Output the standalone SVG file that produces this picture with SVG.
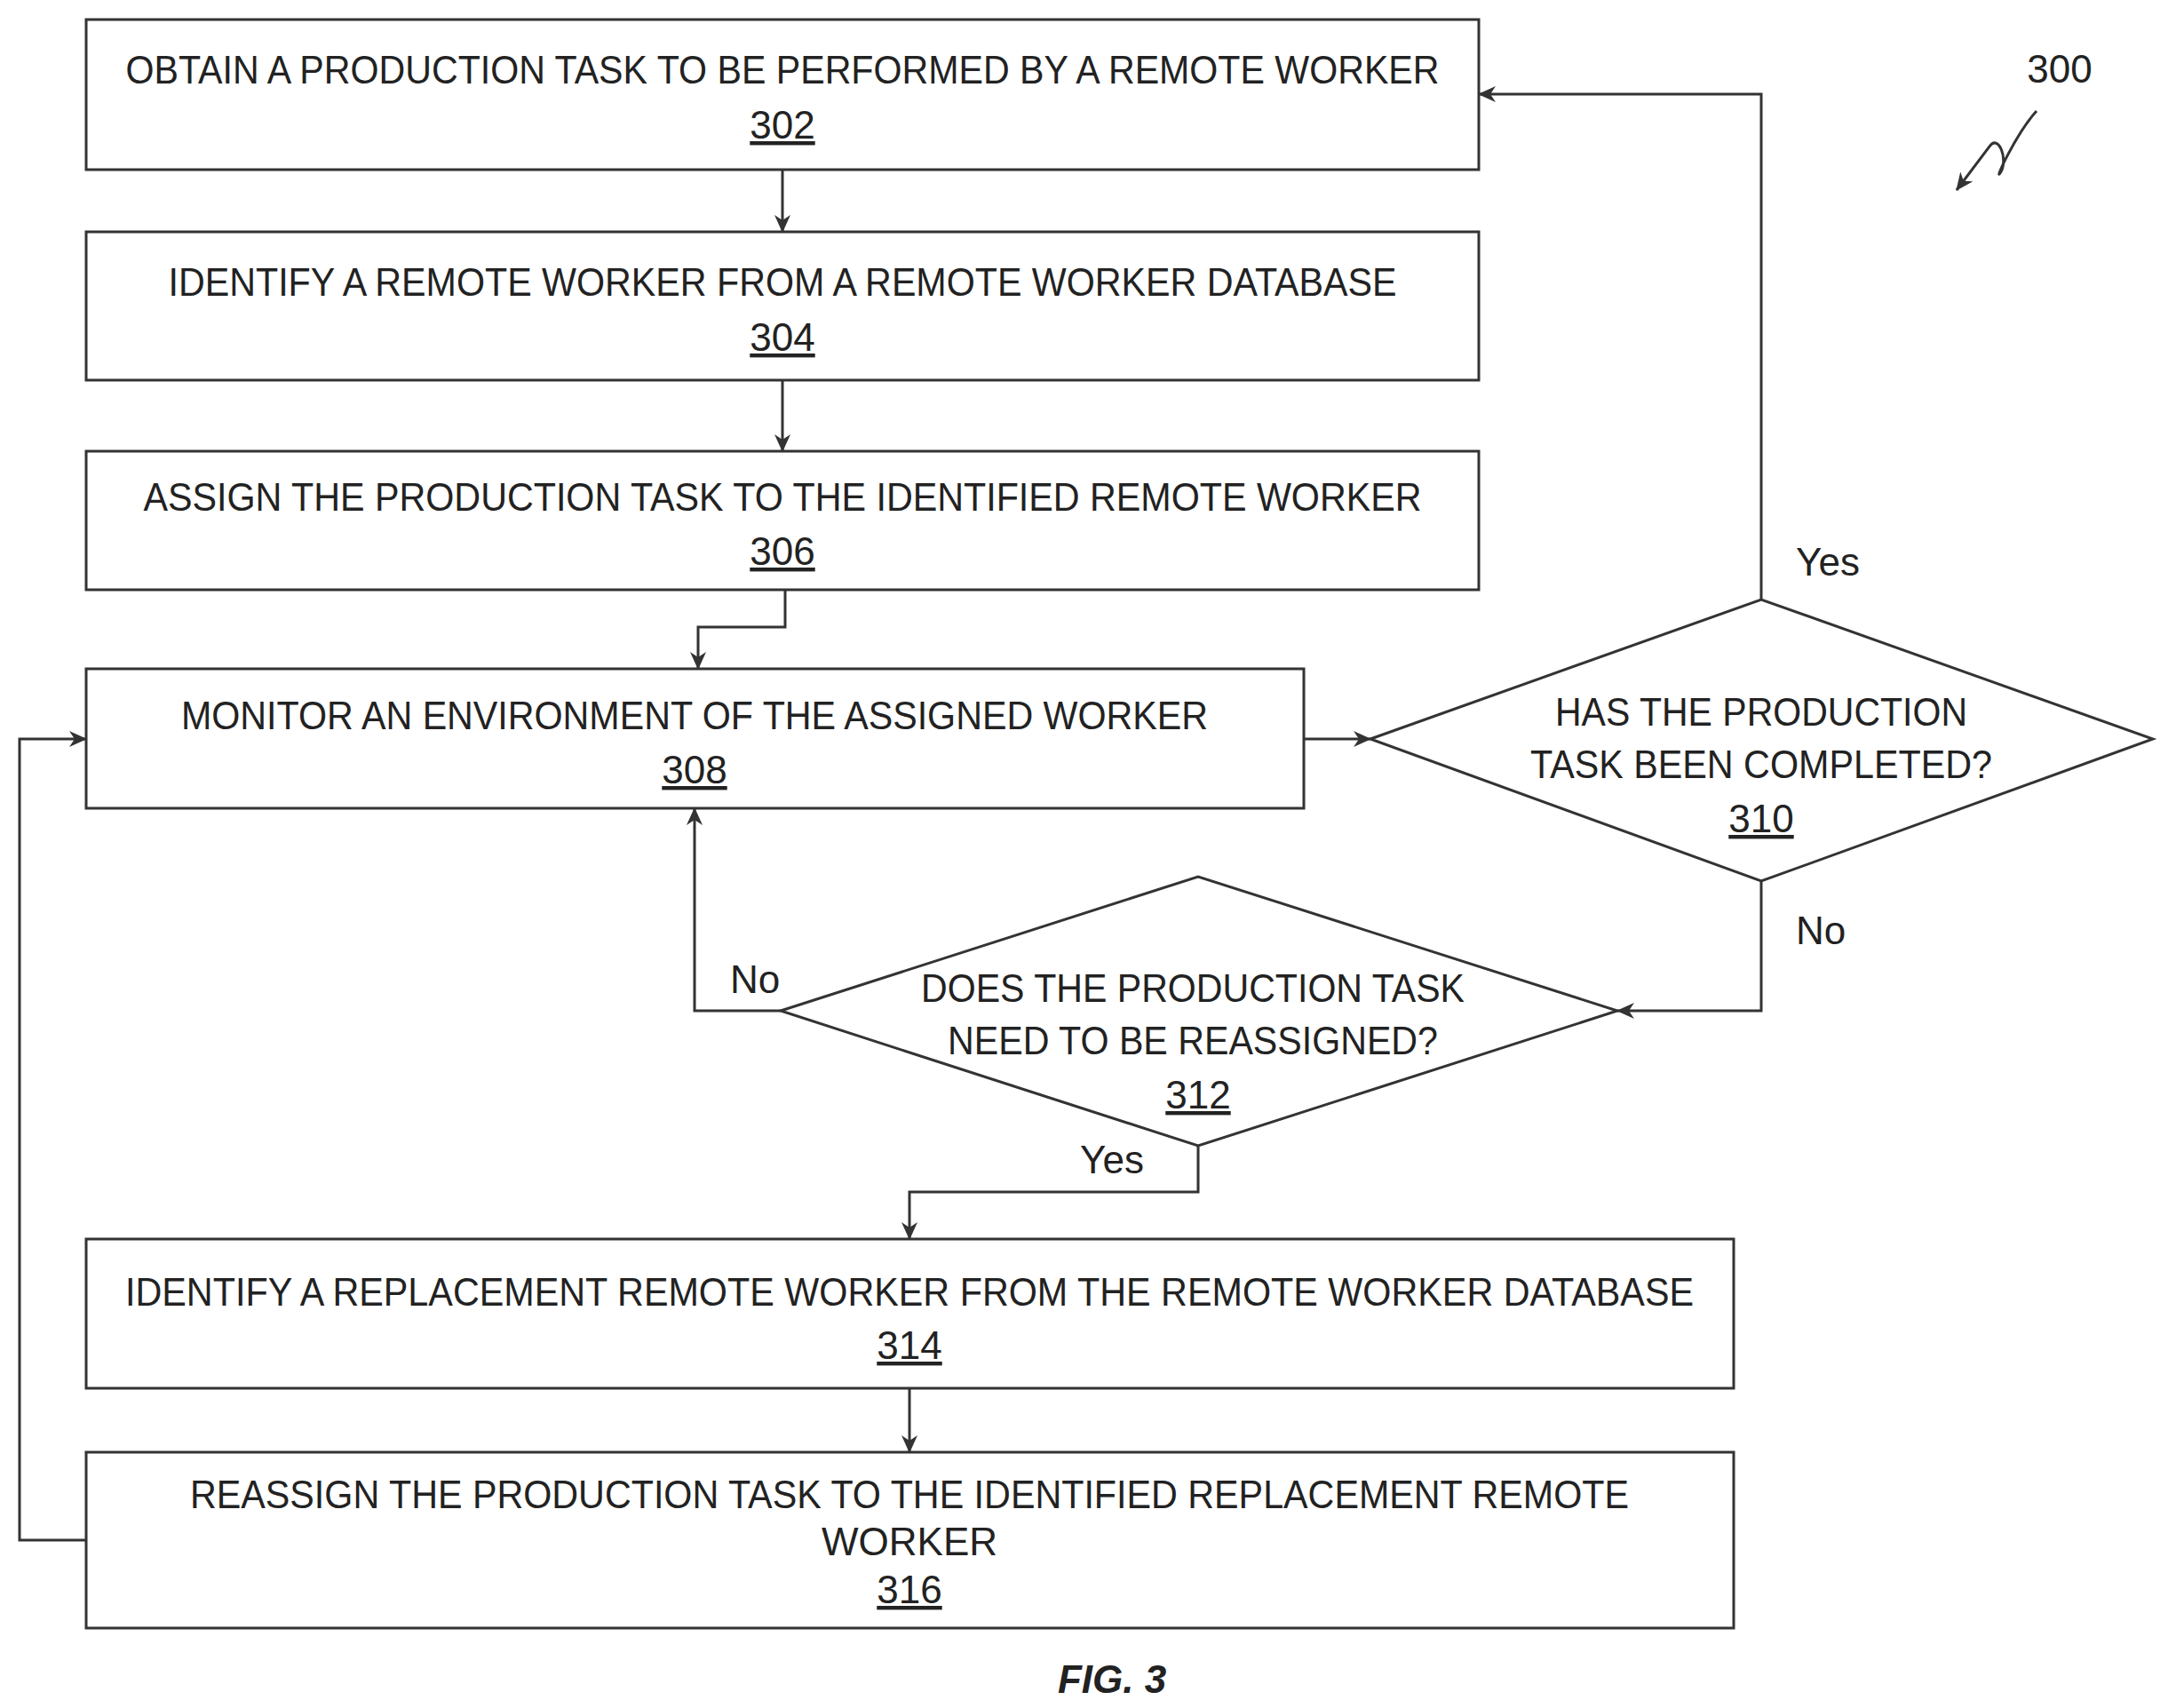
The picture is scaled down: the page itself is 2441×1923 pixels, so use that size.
<svg xmlns="http://www.w3.org/2000/svg" width="2441" height="1923" viewBox="0 0 2441 1923">
<style>
.b{fill:#fff;stroke:#333;stroke-width:3}
.t{font-family:"Liberation Sans",Arial,sans-serif;font-size:44px;fill:#222;text-anchor:middle}
.n{text-decoration:underline}
.c{fill:none;stroke:#333;stroke-width:3;marker-end:url(#a)}
</style>
<defs><marker id="a" markerWidth="20" markerHeight="18" refX="19" refY="9" orient="auto" markerUnits="userSpaceOnUse"><path d="M0,0 L20,9 L0,18 L6,9 Z" fill="#333"/></marker></defs>
<rect width="2441" height="1923" fill="#fff"/>
<g id="n302"><rect class="b" x="97" y="22" width="1568" height="169"/><text class="t" x="881" y="94" textLength="1479" lengthAdjust="spacingAndGlyphs">OBTAIN A PRODUCTION TASK TO BE PERFORMED BY A REMOTE WORKER</text><text class="t n" x="881" y="156">302</text></g>
<g id="n304"><rect class="b" x="97" y="261" width="1568" height="167"/><text class="t" x="881" y="333" textLength="1383" lengthAdjust="spacingAndGlyphs">IDENTIFY A REMOTE WORKER FROM A REMOTE WORKER DATABASE</text><text class="t n" x="881" y="395">304</text></g>
<g id="n306"><rect class="b" x="97" y="508" width="1568" height="156"/><text class="t" x="881" y="575" textLength="1439" lengthAdjust="spacingAndGlyphs">ASSIGN THE PRODUCTION TASK TO THE IDENTIFIED REMOTE WORKER</text><text class="t n" x="881" y="636">306</text></g>
<g id="n308"><rect class="b" x="97" y="753" width="1371" height="157"/><text class="t" x="782" y="821" textLength="1156" lengthAdjust="spacingAndGlyphs">MONITOR AN ENVIRONMENT OF THE ASSIGNED WORKER</text><text class="t n" x="782" y="882">308</text></g>
<g id="n310"><polygon class="b" points="1543,832 1983,675 2424,832 1983,992"/><text class="t" x="1983" y="817" textLength="464" lengthAdjust="spacingAndGlyphs">HAS THE PRODUCTION</text><text class="t" x="1983" y="876" textLength="520" lengthAdjust="spacingAndGlyphs">TASK BEEN COMPLETED?</text><text class="t n" x="1983" y="937">310</text></g>
<g id="n312"><polygon class="b" points="879,1138 1349,987 1821,1138 1349,1290"/><text class="t" x="1343" y="1128" textLength="612" lengthAdjust="spacingAndGlyphs">DOES THE PRODUCTION TASK</text><text class="t" x="1343" y="1187" textLength="552" lengthAdjust="spacingAndGlyphs">NEED TO BE REASSIGNED?</text><text class="t n" x="1349" y="1248">312</text></g>
<g id="n314"><rect class="b" x="97" y="1395" width="1855" height="168"/><text class="t" x="1024" y="1470" textLength="1766" lengthAdjust="spacingAndGlyphs">IDENTIFY A REPLACEMENT REMOTE WORKER FROM THE REMOTE WORKER DATABASE</text><text class="t n" x="1024" y="1530">314</text></g>
<g id="n316"><rect class="b" x="97" y="1635" width="1855" height="198"/><text class="t" x="1024" y="1698" textLength="1620" lengthAdjust="spacingAndGlyphs">REASSIGN THE PRODUCTION TASK TO THE IDENTIFIED REPLACEMENT REMOTE</text><text class="t" x="1024" y="1751">WORKER</text><text class="t n" x="1024" y="1805">316</text></g>
<g id="connectors">
<path class="c" d="M881,191 V261"/>
<path class="c" d="M881,428 V508"/>
<path class="c" d="M884,664 V706 H786 V753"/>
<path class="c" d="M1468,832 H1543"/>
<path class="c" d="M1983,675 V106 H1665"/>
<path class="c" d="M1983,992 V1138 H1821"/>
<path class="c" d="M879,1138 H782 V910"/>
<path class="c" d="M1349,1290 V1342 H1024 V1395"/>
<path class="c" d="M1024,1563 V1635"/>
<path class="c" d="M97,1734 H22 V832 H97"/>
<path class="c" d="M2293,125 C2270,150 2245,205 2252,195 C2262,180 2250,150 2240,165 L2203,214"/>
</g>
<g id="labels">
<text class="t" x="2058" y="648">Yes</text>
<text class="t" x="2050" y="1063">No</text>
<text class="t" x="850" y="1118">No</text>
<text class="t" x="1252" y="1321">Yes</text>
<text class="t" x="2319" y="93">300</text>
<text class="t" x="1252" y="1906" style="font-style:italic;font-weight:bold">FIG. 3</text>
</g>
</svg>
